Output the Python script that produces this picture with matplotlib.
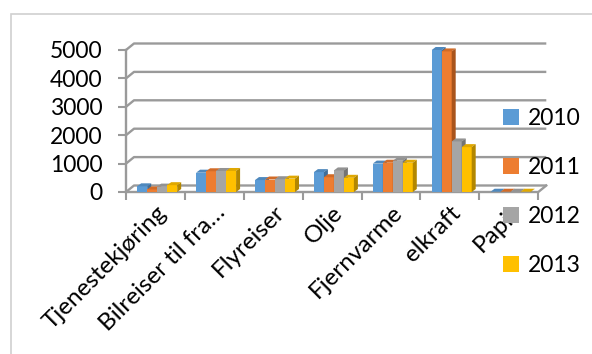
import matplotlib.pyplot as plt
from matplotlib.patches import Rectangle
from matplotlib.lines import Line2D

plt.rcParams['font.family'] = ['Lato', 'DejaVu Sans']

# Data
categories = ['Tjenestekjøring', 'Bilreiser til fra…', 'Flyreiser', 'Olje',
              'Fjernvarme', 'elkraft', 'Papir']
years = ['2010', '2011', '2012', '2013']
v2010 = [200, 680, 420, 700, 1000, 5000, 10]
v2011 = [90, 730, 440, 520, 1030, 4950, 10]
v2012 = [190, 740, 450, 760, 1100, 1780, 10]
v2013 = [240, 740, 470, 500, 1030, 1580, 10]
yticks = [0, 1000, 2000, 3000, 4000, 5000]

series = [v2010, v2011, v2012, v2013]
front = ['#5B9BD5', '#ED7D31', '#A5A5A5', '#FFC000']
top = ['#4E88BD', '#D26B27', '#929292', '#E0A800']
side = ['#3F6E9A', '#A9541C', '#747474', '#B38700']
grid = '#9A9A9A'

fig = plt.figure(figsize=(5.92, 3.54), dpi=100)
ax = fig.add_axes([126 / 592, 162 / 354, 423 / 592, 152 / 354])
ax.set_xlim(0, 423 / 58.9)
ax.set_ylim(0, 152 / 28.4 * 1000)
for s in ax.spines.values():
    s.set_visible(False)

n = len(categories)
# depth of walls and of the bars, in data units
wall_dx, wall_dy = 8 / 58.9, 6.5 / 28.4 * 1000
bar_dx, bar_dy = 4 / 58.9, 3 / 28.4 * 1000
w = 10 / 58.9
off = 0.19

# side wall + back wall gridlines
for y in yticks:
    ax.plot([0, wall_dx, n + wall_dx], [y, y + wall_dy, y + wall_dy],
            color=grid, lw=1.7, zorder=1, clip_on=False, solid_capstyle='butt')
ax.plot([0, 0], [0, yticks[-1]], color=grid, lw=1.7, zorder=1, clip_on=False)
# floor
ax.plot([0, n, n + wall_dx], [0, 0, wall_dy], color=grid, lw=1.7, zorder=2, clip_on=False)

# 3d columns: front face, top and right side
for j, vals in enumerate(series):
    xs = [i + off + j * w for i in range(n)]
    ax.bar(xs, vals, width=w, align='edge', color=front[j], lw=0, zorder=3 + j)
    for x, v in zip(xs, vals):
        ax.fill([x, x + bar_dx, x + w + bar_dx, x + w], [v, v + bar_dy, v + bar_dy, v],
                color=top[j], lw=0, zorder=3 + j)
        ax.fill([x + w, x + w + bar_dx, x + w + bar_dx, x + w], [0, bar_dy, v + bar_dy, v],
                color=side[j], lw=0, zorder=3 + j)

ax.set_yticks(yticks)
ax.tick_params(axis='y', length=5.8, width=1.5, color=grid, pad=11, labelsize=16.5)
ax.set_xticks([i + 0.5 for i in range(n)])
ax.set_xticklabels(categories, rotation=45, ha='right', rotation_mode='anchor', fontsize=17.5)
ax.set_xticks(range(n + 1), minor=True)
ax.tick_params(axis='x', which='major', length=0, pad=7)
ax.tick_params(axis='x', which='minor', length=5.8, width=1.5, color=grid)

handles = [Line2D([], [], marker='s', ls='none', markersize=11,
                  markerfacecolor=c, markeredgewidth=0) for c in front]
fig.legend(handles, years, loc='center left', bbox_to_anchor=(488 / 592, 1 - 192 / 354),
           frameon=False, fontsize=16.5, labelspacing=1.22, handletextpad=0.25,
           borderpad=0, handlelength=1)

# chart area border
fig.add_artist(Rectangle((11 / 592, -0.1), 1.2, 1 - 14 / 354 + 0.1, transform=fig.transFigure,
                         fill=False, ec='#D0D0D0', lw=1.2))

fig.savefig('out.png', dpi=100)
